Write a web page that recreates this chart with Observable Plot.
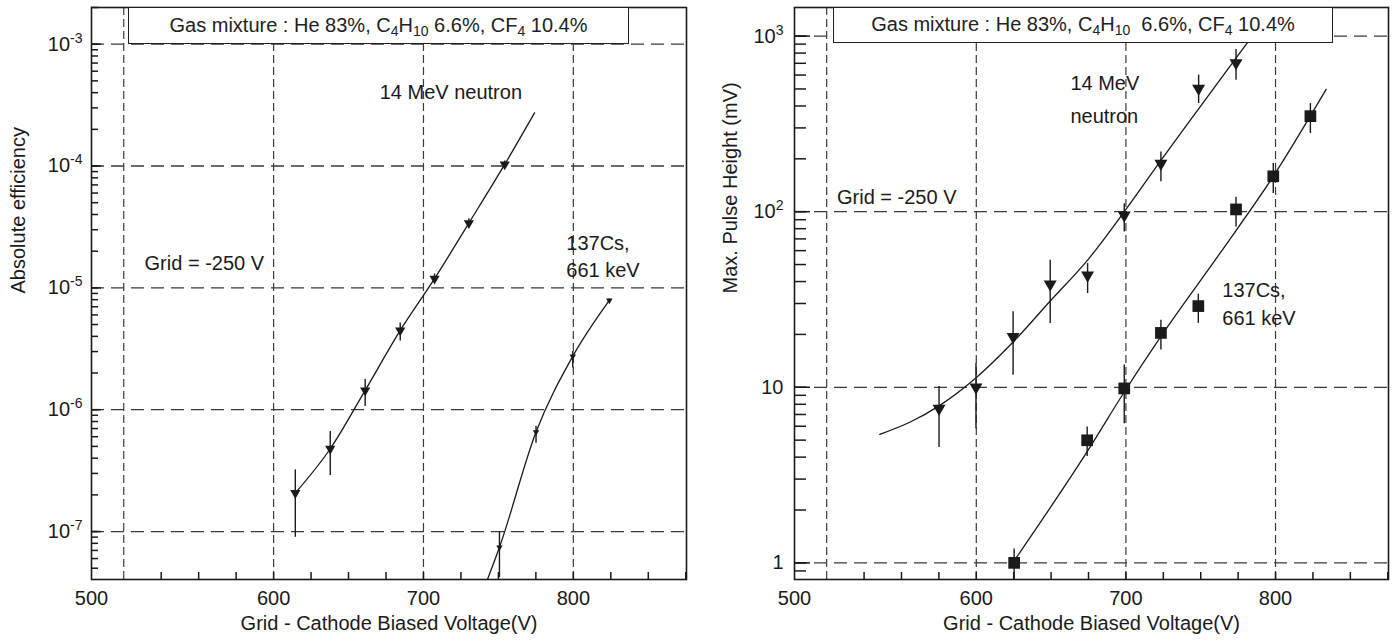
<!DOCTYPE html>
<html><head><meta charset="utf-8">
<script src="https://cdn.jsdelivr.net/npm/d3@7"></script>
<script src="https://cdn.jsdelivr.net/npm/@observablehq/plot@0.6"></script>
<style>
body{margin:0;background:#fff;}
#wrap{position:relative;width:1395px;height:643px;overflow:hidden;font-family:"Liberation Sans",Arial,sans-serif;color:#222;}
.panel{position:absolute;top:0;}
.box{position:absolute;top:7px;background:#fff;border:1.5px solid #222;box-sizing:border-box;font-size:20px;color:#222;text-align:center;white-space:pre;}
.box sub{font-size:14px;vertical-align:-4px;line-height:0;}
</style></head><body>
<div id="wrap">
<div class="panel" id="left" style="left:0"></div>
<div class="panel" id="right" style="left:697px"></div>
<div class="box" style="left:128px;width:501px;height:37px;line-height:34px"><span>Gas mixture : He 83%, C<sub>4</sub>H<sub>10</sub> 6.6%, CF<sub>4</sub> 10.4%</span></div>
<div class="box" style="left:833px;width:500px;height:36px;line-height:33px"><span>Gas mixture : He 83%, C<sub>4</sub>H<sub>10</sub>  6.6%, CF<sub>4</sub> 10.4%</span></div>
</div>
<script>
// ---------- shared x axis ----------
const xDomain = [478.5, 875.5];
const xGridValues = [500, 600, 700, 800];
const xTickValues = [600, 700, 800];
const xTickLabels = ["500", "600", "700", "800"];
const xMinorTicks = [525, 550, 575, 600, 625, 650, 675, 700, 725, 750, 775, 800, 825, 850, 875];
const xTitle = "Grid - Cathode Biased Voltage(V)";

// ---------- left panel: absolute efficiency ----------
const effDomain = [4.04e-8, 2.0e-3];
const effDecades = [1e-7, 1e-6, 1e-5, 1e-4, 1e-3];
const effTickLabels = ["10^-7", "10^-6", "10^-5", "10^-4", "10^-3"];
const effTitle = "Absolute efficiency";

const nEffV  = [614.5, 637.8, 661.1, 684.5, 707.4, 730.3, 754.2];
const nEff   = [2.07e-7, 4.78e-7, 1.44e-6, 4.48e-6, 1.19e-5, 3.40e-5, 1.03e-4];
const nEffHi = [3.21e-7, 6.62e-7, 1.77e-6, 5.14e-6, 1.30e-5, 3.70e-5, 1.10e-4];
const nEffLo = [8.97e-8, 2.88e-7, 1.06e-6, 3.66e-6, 1.10e-5, 3.10e-5, 0.97e-4];
const nEffFitV = [614.5, 637.8, 661.1, 684.5, 707.4, 730.3, 754.2, 774.1];
const nEffFit  = [2.07e-7, 4.78e-7, 1.44e-6, 4.48e-6, 1.19e-5, 3.40e-5, 1.03e-4, 2.73e-4];

const csEffV  = [750.7, 775.1, 799.6, 824.0];
const csEff   = [7.43e-8, 6.55e-7, 2.74e-6, 7.88e-6];
const csEffHi = [1.0e-7, 7.3e-7, 3.0e-6, 8.1e-6];
const csEffLo = [4.2e-8, 5.3e-7, 2.2e-6, 7.6e-6];
const csEffFitV = [742.7, 750.7, 775.1, 799.6, 824.0];
const csEffFit  = [4.04e-8, 7.43e-8, 6.55e-7, 2.74e-6, 7.88e-6];

const leftNoteText = ["14 MeV neutron", "Grid = -250 V", "137Cs,", "661 keV"];
const leftNoteV    = [670.8, 513.9, 795.3, 795.3];
const leftNoteY    = [4.0e-4, 1.58e-5, 2.31e-5, 1.39e-5];

// ---------- right panel: max pulse height ----------
const phDomain = [0.804, 1455];
const phDecades = [1, 10, 100, 1000];
const phTickLabels = ["1", "10", "10^2", "10^3"];
const phTitle = "Max. Pulse Height (mV)";

const nPhV  = [575.1, 599.8, 624.6, 649.4, 674.4, 698.9, 723.4, 748.6, 773.6];
const nPh   = [7.57, 10.0, 19.4, 38.6, 43.5, 95.5, 188, 503, 704];
const nPhHi = [10.1, 13.7, 26.9, 52.9, 50.7, 111, 219, 599, 839];
const nPhLo = [4.54, 5.8, 11.7, 23.1, 34.2, 76.7, 148, 413, 561];
const nPhFitV = [535.5, 556.2, 575.1, 599.7, 624.6, 649.4, 674.4, 698.9, 723.4, 748.6, 773.6, 792];
const nPhFit  = [5.39, 6.36, 7.84, 11.3, 18.1, 31.0, 53, 100, 196, 385, 750, 1225];

const csPhV  = [625.3, 674.1, 698.9, 723.4, 748.4, 773.6, 798.5, 823.3];
const csPh   = [1.0, 4.99, 9.85, 20.4, 29.0, 103, 159, 350];
const csPhHi = [1.2, 5.94, 13.4, 24.1, 33.9, 121, 188, 413];
const csPhLo = [0.75, 4.04, 6.2, 16.3, 23.1, 81.9, 127, 279];
const csPhFitV = [626.4, 674.1, 698.9, 723.4, 763.5, 798.5, 833.8];
const csPhFit  = [1.06, 4.3, 9.4, 19.5, 59, 159, 497];

const rightNoteText = ["14 MeV", "neutron", "Grid = -250 V", "137Cs,", "661 keV"];
const rightNoteV    = [662.9, 662.9, 506.9, 764.4, 764.4];
const rightNoteY    = [537, 347, 121, 35.7, 24.6];

const INK = "#1a1a1a";
const GRID = "#3a3a3a";
const FONT = "'Liberation Sans', Arial, sans-serif";

function series(V, Y, lo, hi) {
  return V.map((v, i) => ({v, y: Y[i], lo: lo ? lo[i] : null, hi: hi ? hi[i] : null}));
}

function panel(cfg) {
  const frameW = cfg.width - cfg.ml - cfg.mr;
  const frameH = 643 - 7 - 64;
  const pxPerV = frameW / (xDomain[1] - xDomain[0]);
  const pxPerDecade = frameH / Math.log10(cfg.yDomain[1] / cfg.yDomain[0]);
  const yTickEnd = len => xDomain[0] + len / pxPerV;
  const xTickTop = cfg.yDomain[0] * Math.pow(10, 7 / pxPerDecade);
  const minorY = d3.scaleLog().domain(cfg.yDomain).ticks();
  const marks = [
    Plot.ruleY(cfg.decades, {stroke: GRID, strokeWidth: 1.3, strokeDasharray: "13,7"}),
    Plot.ruleX(xGridValues, {stroke: GRID, strokeWidth: 1.2, strokeDasharray: "8,4"}),
    Plot.ruleY(minorY, {x1: xDomain[0], x2: yTickEnd(cfg.minorLen), stroke: INK, strokeWidth: 1.5}),
    Plot.ruleY(cfg.decades, {x1: xDomain[0], x2: yTickEnd(cfg.majorLen), stroke: INK, strokeWidth: 1.5}),
    Plot.ruleX(xMinorTicks, {y1: cfg.yDomain[0], y2: xTickTop, stroke: INK, strokeWidth: 1.5}),
    Plot.frame({stroke: INK, strokeWidth: 1.6}),
    Plot.axisX(xTickValues, {tickSize: 0, tickPadding: 11, fontSize: 20, label: null}),
    Plot.text([xTickLabels[0]], {frameAnchor: "bottom-left", lineAnchor: "top", dy: 11, textAnchor: "middle", fontSize: 20, fill: INK}),
    Plot.axisY(cfg.decades, {tickSize: 0, tickPadding: cfg.yPad, fontSize: 20, label: null,
      tickFormat: d => cfg.tickLabels[cfg.decades.indexOf(d)]}),
    Plot.text([xTitle], {frameAnchor: "bottom", dy: 50, fontSize: 20, fill: INK}),
    Plot.text([cfg.yTitle], {frameAnchor: "left", rotate: -90, dx: cfg.yTitleDx, fontSize: 20, fill: INK}),
  ];
  for (const s of cfg.series) {
    marks.push(Plot.line(s.fit, {x: "v", y: "y", curve: "monotone-x", stroke: INK, strokeWidth: 1.3, clip: true}));
    marks.push(Plot.ruleX(s.pts, {x: "v", y1: "lo", y2: "hi", stroke: INK, strokeWidth: 1.4, clip: true}));
    marks.push(Plot.dot(s.pts, {x: "v", y: "y", symbol: s.symbol, rotate: s.rotate, r: s.r, fill: INK, stroke: null}));
  }
  marks.push(Plot.text(cfg.notes, {x: "v", y: "y", text: "t", textAnchor: "start", fontSize: 20, fill: INK}));
  const chart = Plot.plot({
    width: cfg.width, height: 643,
    marginLeft: cfg.ml, marginRight: cfg.mr, marginTop: 7, marginBottom: 64,
    x: {domain: xDomain},
    y: {type: "log", domain: cfg.yDomain},
    style: {fontFamily: FONT, fontSize: "20px", color: INK, background: "transparent", overflow: "visible"},
    marks
  });
  // superscript exponents in the tick labels
  chart.querySelectorAll('g[aria-label="y-axis tick label"] text').forEach(t => {
    const s = t.textContent;
    const k = s.indexOf("^");
    if (k >= 0) {
      t.textContent = s.slice(0, k);
      const ts = document.createElementNS("http://www.w3.org/2000/svg", "tspan");
      ts.setAttribute("dy", "-8");
      ts.setAttribute("font-size", "14");
      ts.textContent = s.slice(k + 1);
      t.appendChild(ts);
    }
  });
  return chart;
}

const left = panel({
  width: 697, ml: 91, mr: 11, yDomain: effDomain, decades: effDecades, tickLabels: effTickLabels,
  yPad: 9, yTitle: effTitle, yTitleDx: -73, minorLen: 7, majorLen: 10,
  series: [
    {pts: series(nEffV, nEff, nEffLo, nEffHi), fit: series(nEffFitV, nEffFit), symbol: "triangle", rotate: 180, r: 3.8},
    {pts: series(csEffV, csEff, csEffLo, csEffHi), fit: series(csEffFitV, csEffFit), symbol: "triangle", rotate: 180, r: 2.4}
  ],
  notes: leftNoteText.map((t, i) => ({t, v: leftNoteV[i], y: leftNoteY[i]}))
});
document.getElementById("left").appendChild(left);

const right = panel({
  width: 698, ml: 97, mr: 7, yDomain: phDomain, decades: phDecades, tickLabels: phTickLabels,
  yPad: 11, yTitle: phTitle, yTitleDx: -64, minorLen: 12, majorLen: 16,
  series: [
    {pts: series(nPhV, nPh, nPhLo, nPhHi), fit: series(nPhFitV, nPhFit), symbol: "triangle", rotate: 180, r: 4.8},
    {pts: series(csPhV, csPh, csPhLo, csPhHi), fit: series(csPhFitV, csPhFit), symbol: "square", rotate: 0, r: 6.6}
  ],
  notes: rightNoteText.map((t, i) => ({t, v: rightNoteV[i], y: rightNoteY[i]}))
});
document.getElementById("right").appendChild(right);
</script>
</body></html>
